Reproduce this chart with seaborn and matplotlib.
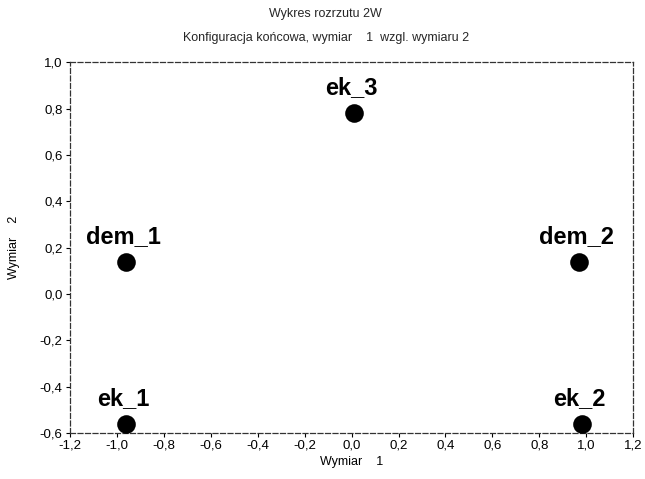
import matplotlib
matplotlib.use("Agg")
import matplotlib.pyplot as plt
import seaborn as sns
import pandas as pd
import matplotlib.ticker as mticker

labels = ["dem_1", "dem_2", "ek_1", "ek_2", "ek_3"]
dim1 = [-0.96, 0.97, -0.96, 0.98, 0.01]
dim2 = [0.14, 0.14, -0.56, -0.56, 0.78]
xticks = [-1.2, -1.0, -0.8, -0.6, -0.4, -0.2, 0.0, 0.2, 0.4, 0.6, 0.8, 1.0, 1.2]
yticks = [-0.6, -0.4, -0.2, 0.0, 0.2, 0.4, 0.6, 0.8, 1.0]

df = pd.DataFrame({"label": labels, "Wymiar 1": dim1, "Wymiar 2": dim2})

sns.set_theme(style="white")
plt.rcParams["font.family"] = ["Liberation Sans", "DejaVu Sans"]

fig = plt.figure(figsize=(6.45, 4.79), dpi=100)
ax = fig.add_axes([0.108, 0.096, 0.874, 0.774])

sns.scatterplot(data=df, x="Wymiar 1", y="Wymiar 2", ax=ax, s=180,
                color="black", edgecolor="black", linewidth=0, zorder=3)

for lab, x, y in zip(labels, dim1, dim2):
    ax.annotate(lab, (x, y), xytext=(-2, 10), textcoords="offset points",
                ha="center", va="bottom", fontsize=17, fontweight="bold",
                color="black")

ax.set_xlim(-1.2, 1.2)
ax.set_ylim(-0.6, 1.0)
ax.set_xticks(xticks)
ax.set_yticks(yticks)
fmt = mticker.FuncFormatter(lambda v, p: f"{v:.1f}".replace(".", ",").replace("-0,0", "0,0"))
ax.xaxis.set_major_formatter(fmt)
ax.yaxis.set_major_formatter(fmt)
ax.tick_params(axis="both", labelsize=9.5, colors="black", length=3, width=0.8,
               direction="out", left=True, bottom=True, pad=2)

for sp in ax.spines.values():
    sp.set_visible(True)
    sp.set_color("#333333")
    sp.set_linewidth(0.9)
    sp.set_linestyle((0, (4, 2)))

ax.set_xlabel("Wymiar    1", fontsize=9, labelpad=3, color="black")
ax.set_ylabel("Wymiar    2", fontsize=9, labelpad=14, color="black")

fig.text(0.505, 0.970, "Wykres rozrzutu 2W", ha="center", va="center", fontsize=9)
fig.text(0.505, 0.920, "Konfiguracja końcowa, wymiar    1  wzgl. wymiaru 2",
         ha="center", va="center", fontsize=9)

fig.savefig("out.png", dpi=100)
